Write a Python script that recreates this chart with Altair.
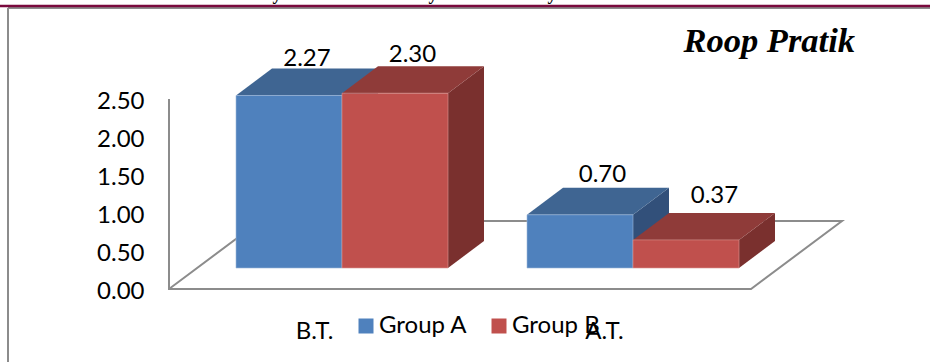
import altair as alt
import pandas as pd

# Chart values
categories = ["B.T.", "A.T."]
series = ["Group A", "Group B"]
group_a = [2.27, 0.70]
group_b = [2.30, 0.37]
y_ticks = [0.0, 0.5, 1.0, 1.5, 2.0, 2.5]

# Drawing geometry
W, H = 930, 362
PX_PER_UNIT = 76.0
AXIS_ZERO_PX = 289.0
TOP_V = AXIS_ZERO_PX / PX_PER_UNIT
BOTTOM_V = -(H - AXIS_ZERO_PX) / PX_PER_UNIT

GROUP_LEFT = [236.0, 527.0]
BAR_W = 106.0
DEPTH_X = 36.0
DEPTH_V = 27.0 / PX_PER_UNIT
BASE_V = 21.0 / PX_PER_UNIT

FRONT = {"Group A": "#4F81BD", "Group B": "#C0504D"}
TOP = {"Group A": "#3F6592", "Group B": "#8F3B39"}
SIDE = {"Group A": "#32507A", "Group B": "#7A302E"}
EDGE = {"Group A": "#9DB8D9", "Group B": "#D99694"}
LINE = "#8C8C8C"
FONT = "Lato"
TEXT_SIZE = 24


def px(y):
    """Value on the y scale that lands on pixel row y."""
    return (AXIS_ZERO_PX - y) / PX_PER_UNIT


x_scale = alt.Scale(domain=[0, W], range=[0, W], nice=False, zero=False)
y_scale = alt.Scale(domain=[BOTTOM_V, TOP_V], range=[H, 0], nice=False, zero=False)
y_axis = alt.Axis(
    values=y_ticks,
    format=".2f",
    domain=False,
    ticks=False,
    grid=False,
    title=None,
    offset=-169,
    labelPadding=25,
    labelOffset=2,
    labelFont=FONT,
    labelFontSize=TEXT_SIZE,
    labelColor="#000000",
)
X = lambda f="x": alt.X(f"{f}:Q", scale=x_scale, axis=None)
Y = lambda f="y": alt.Y(f"{f}:Q", scale=y_scale, axis=y_axis)

layers = []

# Floor outline and vertical axis line
floor = pd.DataFrame(
    {
        "x": [169, 169, 751, 842, 260, 169],
        "y": [2.5, 0, 0, 68 / PX_PER_UNIT, 68 / PX_PER_UNIT, 0],
        "o": list(range(6)),
    }
)
layers.append(
    alt.Chart(floor)
    .mark_line(color=LINE, strokeWidth=2)
    .encode(x=X(), y=Y(), order="o:Q")
)

# Each bar as a box: side face, top face, front face, painted left to right
for g, left in enumerate(GROUP_LEFT):
    for s, name in enumerate(series):
        value = (group_a if s == 0 else group_b)[g]
        x0 = left + s * BAR_W
        x1 = x0 + BAR_W
        y0 = BASE_V
        y1 = BASE_V + value

        side = pd.DataFrame(
            {
                "x": [x1, x1 + DEPTH_X],
                "y": [y1, y1 + DEPTH_V],
                "y2": [y0, y0 + DEPTH_V],
            }
        )
        layers.append(
            alt.Chart(side)
            .mark_area(color=SIDE[name], opacity=1)
            .encode(x=X(), y=Y(), y2="y2:Q")
        )

        top = pd.DataFrame(
            {
                "x": [x0, x0 + DEPTH_X, x1, x1 + DEPTH_X],
                "y": [y1, y1 + DEPTH_V, y1 + DEPTH_V, y1 + DEPTH_V],
                "y2": [y1, y1, y1, y1 + DEPTH_V],
            }
        )
        layers.append(
            alt.Chart(top)
            .mark_area(color=TOP[name], opacity=1)
            .encode(x=X(), y=Y(), y2="y2:Q")
        )

        front = pd.DataFrame(
            {"x": [x0], "x2": [x1], "y": [y1], "y2": [y0], "series": [name]}
        )
        layers.append(
            alt.Chart(front)
            .mark_rect(strokeWidth=1, stroke=EDGE[name], strokeOpacity=0.6)
            .encode(
                x=X(),
                x2="x2:Q",
                y=Y(),
                y2="y2:Q",
                color=alt.Color(
                    "series:N",
                    scale=alt.Scale(domain=series, range=[FRONT[n] for n in series]),
                    legend=alt.Legend(
                        title=None,
                        orient="none",
                        legendX=354,
                        legendY=314,
                        direction="horizontal",
                        symbolType="square",
                        symbolSize=225,
                        symbolStrokeWidth=0,
                        labelFont=FONT,
                        labelFontSize=TEXT_SIZE,
                        labelColor="#000000",
                        labelOffset=1,
                        columnPadding=19,
                    ),
                ),
            )
        )

# Value labels above the boxes
labels = pd.DataFrame(
    {
        "x": [307, 412.5, 602.5, 714.5],
        "y": [px(66), px(62), px(182), px(203)],
        "v": [f"{v:.2f}" for v in (group_a[0], group_b[0], group_a[1], group_b[1])],
    }
)
layers.append(
    alt.Chart(labels)
    .mark_text(font=FONT, fontSize=TEXT_SIZE, color="#000000", align="center", baseline="alphabetic")
    .encode(x=X(), y=Y(), text="v:N")
)

# Category labels
cat = pd.DataFrame({"x": [314.5, 604.5], "y": [px(339)] * 2, "c": categories})
layers.append(
    alt.Chart(cat)
    .mark_text(font=FONT, fontSize=TEXT_SIZE, color="#000000", align="center", baseline="alphabetic")
    .encode(x=X(), y=Y(), text="c:N")
)

# Chart title, upper right
layers.append(
    alt.Chart(pd.DataFrame({"x": [855], "y": [px(52)], "t": ["Roop Pratik"]}))
    .mark_text(
        font="Liberation Serif",
        fontSize=34.5,
        fontWeight="bold",
        fontStyle="italic",
        color="#000000",
        align="right",
        baseline="alphabetic",
    )
    .encode(x=X(), y=Y(), text="t:N")
)

# Descenders of the running head cut off by the page edge
layers.append(
    alt.Chart(pd.DataFrame({"x": [277, 433, 552], "y": [px(0)] * 3, "t": ["y"] * 3}))
    .mark_text(font="Liberation Serif", fontSize=18, fontWeight="bold", color="#000000", align="center", baseline="alphabetic")
    .encode(x=X(), y=Y(), text="t:N")
)

# Page rules around the chart
layers.append(
    alt.Chart(pd.DataFrame({"a": [0]}))
    .mark_rule(color="#8C8C8C", strokeWidth=2)
    .encode(x=alt.value(8), x2=alt.value(W), y=alt.value(8))
)
layers.append(
    alt.Chart(pd.DataFrame({"a": [0]}))
    .mark_rule(color="#8C8C8C", strokeWidth=2)
    .encode(x=alt.value(8), y=alt.value(8), y2=alt.value(H))
)
layers.append(
    alt.Chart(pd.DataFrame({"a": [0]}))
    .mark_rule(color="#7A0A3E", strokeWidth=2.4)
    .encode(x=alt.value(0), x2=alt.value(W), y=alt.value(6))
)

chart = (
    alt.layer(*layers)
    .properties(
        width=W,
        height=H,
        padding=0,
        autosize=alt.AutoSizeParams(type="none"),
        background="white",
    )
    .configure_view(stroke=None)
)

chart.save("out.html", embed_options={"renderer": "svg", "actions": False})
